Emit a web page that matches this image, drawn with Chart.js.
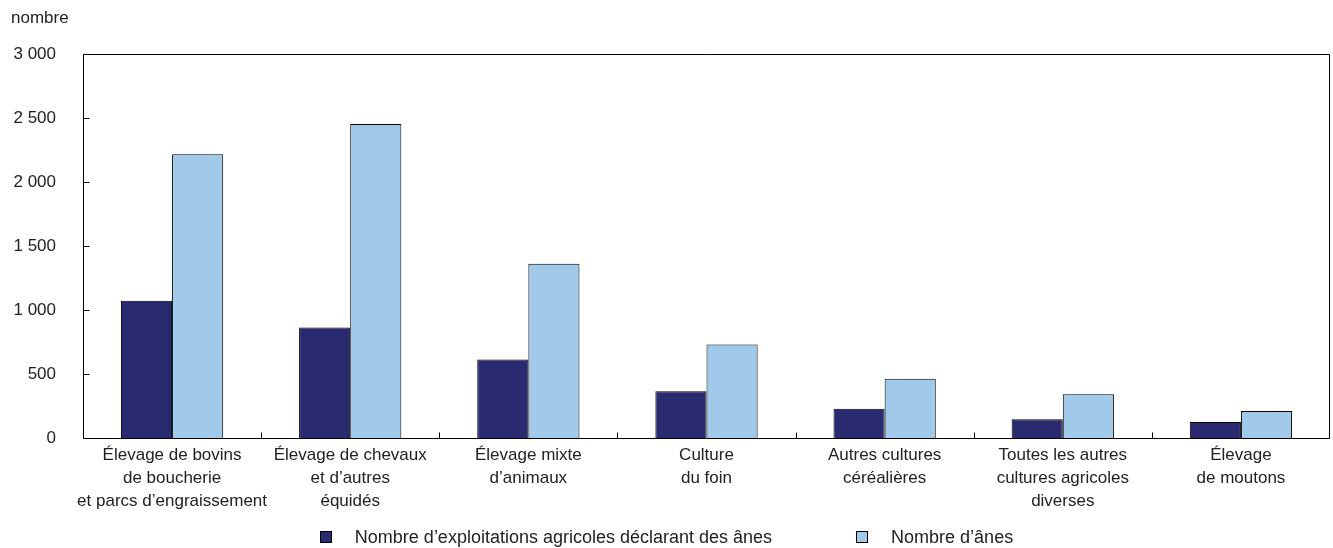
<!DOCTYPE html>
<html lang="fr">
<head>
<meta charset="utf-8">
<title>Ânes par type d'exploitation</title>
<script src="https://cdn.jsdelivr.net/npm/chart.js@4.4.1/dist/chart.umd.min.js"></script>
<style>
  html, body { margin: 0; padding: 0; background: #fff; }
  #wrap { position: relative; width: 1333px; height: 548px; overflow: hidden; font-family: "Liberation Sans", Arial, sans-serif; color: #222; }
  #chart { position: absolute; left: 0; top: 0; }
  #unit { position: absolute; left: 11px; top: 7px; font-size: 17px; line-height: 22px; }
  #legend { position: absolute; left: 0; top: 526px; width: 1333px; display: flex; justify-content: center; align-items: center; font-size: 18px; line-height: 22px; }
  .item { display: flex; align-items: center; }
  .item + .item { margin-left: 84px; }
  .box { width: 10px; height: 10px; border: 1px solid #000; margin-right: 23px; }
</style>
</head>
<body>
<div id="wrap">
  <canvas id="chart" width="1333" height="548"></canvas>
  <div id="unit">nombre</div>
  <div id="legend"></div>
</div>
<script>
const categories = [
  ["Élevage de bovins", "de boucherie", "et parcs d’engraissement"],
  ["Élevage de chevaux", "et d’autres", "équidés"],
  ["Élevage mixte", "d’animaux"],
  ["Culture", "du foin"],
  ["Autres cultures", "céréalières"],
  ["Toutes les autres", "cultures agricoles", "diverses"],
  ["Élevage", "de moutons"]
];
const seriesNames = ["Nombre d’exploitations agricoles déclarant des ânes", "Nombre d’ânes"];
const farmsReporting = [1072, 863, 613, 365, 229, 146, 125];
const donkeys = [2217, 2454, 1361, 730, 462, 342, 211];
const yTicks = [0, 500, 1000, 1500, 2000, 2500, 3000];
const colors = ["#292a6f", "#a1c9ea"];

function fmt(v) { return String(v).replace(/\B(?=(\d{3})+(?!\d))/g, " "); }

// Frame around the plot area plus inward tick marks
const frame = {
  id: "frame",
  afterDatasetsDraw(chart) {
    const a = chart.chartArea, ctx = chart.ctx;
    const xs = chart.scales.x, ys = chart.scales.y;
    const L = Math.round(a.left) + 0.5, T = Math.round(a.top) + 0.5;
    const R = Math.round(a.right) - 0.5, B = Math.round(a.bottom) + 0.5;
    ctx.save();
    ctx.strokeStyle = "#000";
    ctx.lineWidth = 1;
    ctx.beginPath();
    ctx.rect(L, T, R - L, B - T);
    yTicks.forEach(v => {
      const y = Math.round(ys.getPixelForValue(v)) + 0.5;
      ctx.moveTo(L, y); ctx.lineTo(L + 6, y);
    });
    for (let i = 1; i < categories.length; i++) {
      const x = Math.round((xs.getPixelForValue(i - 1) + xs.getPixelForValue(i)) / 2) + 0.5;
      ctx.moveTo(x, B); ctx.lineTo(x, B - 6);
    }
    ctx.stroke();
    ctx.restore();
  }
};

const font = { family: "'Liberation Sans', Arial, sans-serif", size: 17, lineHeight: 1.35 };

new Chart(document.getElementById("chart"), {
  type: "bar",
  data: {
    labels: categories,
    datasets: [
      { label: seriesNames[0], data: farmsReporting, backgroundColor: colors[0], borderColor: "#000", borderWidth: 1, borderSkipped: "bottom" },
      { label: seriesNames[1], data: donkeys, backgroundColor: colors[1], borderColor: "#000", borderWidth: 1, borderSkipped: "bottom" }
    ]
  },
  options: {
    responsive: false,
    animation: false,
    devicePixelRatio: 1,
    layout: { padding: { left: 0, top: 54, right: 3, bottom: 0 } },
    datasets: { bar: { categoryPercentage: 0.574, barPercentage: 1 } },
    plugins: { legend: { display: false }, tooltip: { enabled: false }, title: { display: false } },
    scales: {
      x: {
        offset: true,
        grid: { display: false, drawTicks: false },
        border: { display: false },
        ticks: { color: "#222", font: font, padding: 6, maxRotation: 0, autoSkip: false },
        afterFit(s) { s.height = 110; }
      },
      y: {
        min: 0, max: 3000,
        afterBuildTicks(s) { s.ticks = yTicks.map(v => ({ value: v })); },
        grid: { display: false, drawTicks: false },
        border: { display: false },
        ticks: { color: "#222", font: font, padding: 27, callback: v => fmt(v) },
        afterFit(s) { s.width = 83; }
      }
    }
  },
  plugins: [frame]
});

const legend = document.getElementById("legend");
seriesNames.forEach((n, i) => {
  const it = document.createElement("div");
  it.className = "item";
  const b = document.createElement("span");
  b.className = "box";
  b.style.background = colors[i];
  const t = document.createElement("span");
  t.textContent = n;
  it.appendChild(b); it.appendChild(t);
  legend.appendChild(it);
});
</script>
</body>
</html>
